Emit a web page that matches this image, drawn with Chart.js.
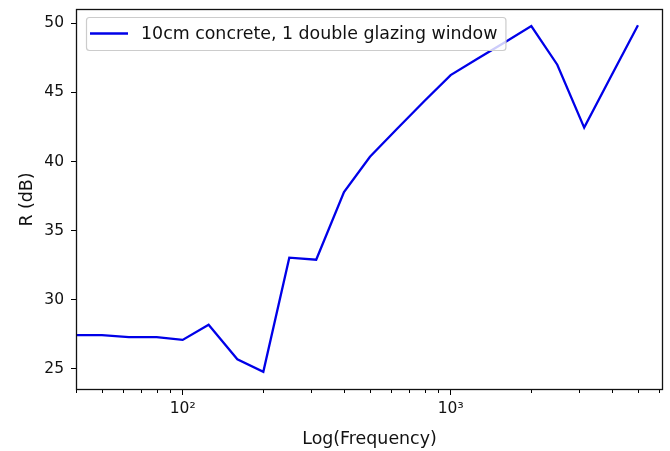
<!DOCTYPE html>
<html>
<head>
<meta charset="utf-8">
<script src="https://cdn.jsdelivr.net/npm/chart.js@4"></script>
<style>
  html,body{margin:0;padding:0;background:#fff;}
  #wrap{width:670px;height:451px;position:relative;}
</style>
</head>
<body>
<div id="wrap"><canvas id="c"></canvas></div>
<script>
// third-octave band centres (Hz) and sound reduction index R (dB)
const freqs=[40,50,63,80,100,125,160,200,250,315,400,500,630,800,1000,1250,1600,2000,2500,3150,4000,5000];
const rValues=[27.45,27.45,27.3,27.3,27.1,28.2,25.7,24.8,33.05,32.9,37.8,40.35,42.35,44.4,46.25,47.4,48.65,49.8,47.0,42.45,46.3,49.85];
const seriesLabel='10cm concrete, 1 double glazing window';
const xTicks=[40,50,60,70,80,90,100,200,300,400,500,600,700,800,900,1000,2000,3000,4000,5000,6000];
const xMajor=[100,1000];
const xMajorLabels=['10²','10³'];
const yTicks=[25,30,35,40,45,50];

const FONT='"DejaVu Sans", sans-serif';
const LINE='#0000e8';

const frame={id:'frame',
  afterDatasetsDraw(chart){
    const {ctx,chartArea:a,scales}=chart;
    ctx.save();
    // minor ticks on the log axis
    ctx.strokeStyle='#000';ctx.lineWidth=1;
    xTicks.filter(v=>!xMajor.includes(v)).forEach(v=>{
      const px=Math.round(scales.x.getPixelForValue(v))+0.5;
      ctx.beginPath();ctx.moveTo(px,a.bottom);ctx.lineTo(px,a.bottom+3);ctx.stroke();
    });
    // spines
    ctx.strokeStyle='#111';ctx.lineWidth=1.3;
    ctx.strokeRect(a.left+0.5,a.top+0.5,a.right-a.left-1,a.bottom-a.top-1);
    // legend box
    ctx.font='17.4px '+FONT;
    const x0=a.left+10,y0=a.top+8,h=33;
    const w=55+ctx.measureText(seriesLabel).width+8;
    ctx.beginPath();ctx.roundRect(x0+0.5,y0+0.5,w,h,3);
    ctx.fillStyle='rgba(255,255,255,0.8)';ctx.fill();
    ctx.strokeStyle='#cccccc';ctx.lineWidth=1.2;ctx.stroke();
    ctx.strokeStyle=LINE;ctx.lineWidth=2.3;
    ctx.beginPath();ctx.moveTo(x0+4,y0+h/2);ctx.lineTo(x0+42,y0+h/2);ctx.stroke();
    ctx.fillStyle='#111';ctx.textBaseline='middle';ctx.textAlign='left';
    ctx.fillText(seriesLabel,x0+55,y0+h/2+1);
    ctx.restore();
  }};

new Chart(document.getElementById('c'),{type:'line',
  data:{datasets:[{label:seriesLabel,data:freqs.map((f,i)=>({x:f,y:rValues[i]})),
    borderColor:LINE,borderWidth:2.3,pointRadius:0,tension:0,fill:false}]},
  options:{responsive:true,maintainAspectRatio:false,animation:false,
    layout:{padding:{top:9,right:7,left:0,bottom:0}},
    plugins:{legend:{display:false},tooltip:{enabled:false}},
    scales:{
      x:{type:'logarithmic',min:40,max:6200,
        afterBuildTicks:s=>{s.ticks=xTicks.map(v=>({value:v,major:xMajor.includes(v)}));},
        afterFit:s=>{s.height=61;s.paddingLeft=0;s.paddingRight=0;},
        grid:{drawOnChartArea:false,tickLength:5,tickColor:c=>xMajor.includes(c.tick&&c.tick.value)?'#000':'rgba(0,0,0,0)'},
        border:{display:false},
        ticks:{autoSkip:false,maxRotation:0,padding:5,color:'#111',font:{family:FONT,size:15.5},
          callback:v=>{const i=xMajor.indexOf(v);return i<0?'':xMajorLabels[i];}},
        title:{display:true,text:'Log(Frequency)',color:'#111',font:{family:FONT,size:17.4},padding:{top:0,bottom:1}}},
      y:{min:23.48,max:51.03,
        afterBuildTicks:s=>{s.ticks=yTicks.map(v=>({value:v}));},
        afterFit:s=>{s.width=76;s.paddingTop=0;s.paddingBottom=0;},
        grid:{drawOnChartArea:false,tickLength:5,tickColor:'#000'},
        border:{display:false},
        ticks:{padding:7,color:'#111',font:{family:FONT,size:15.5}},
        title:{display:true,text:'R (dB)',color:'#111',font:{family:FONT,size:17.4},padding:{top:17,bottom:0}}}
    }},
  plugins:[frame]
});
</script>
</body>
</html>
